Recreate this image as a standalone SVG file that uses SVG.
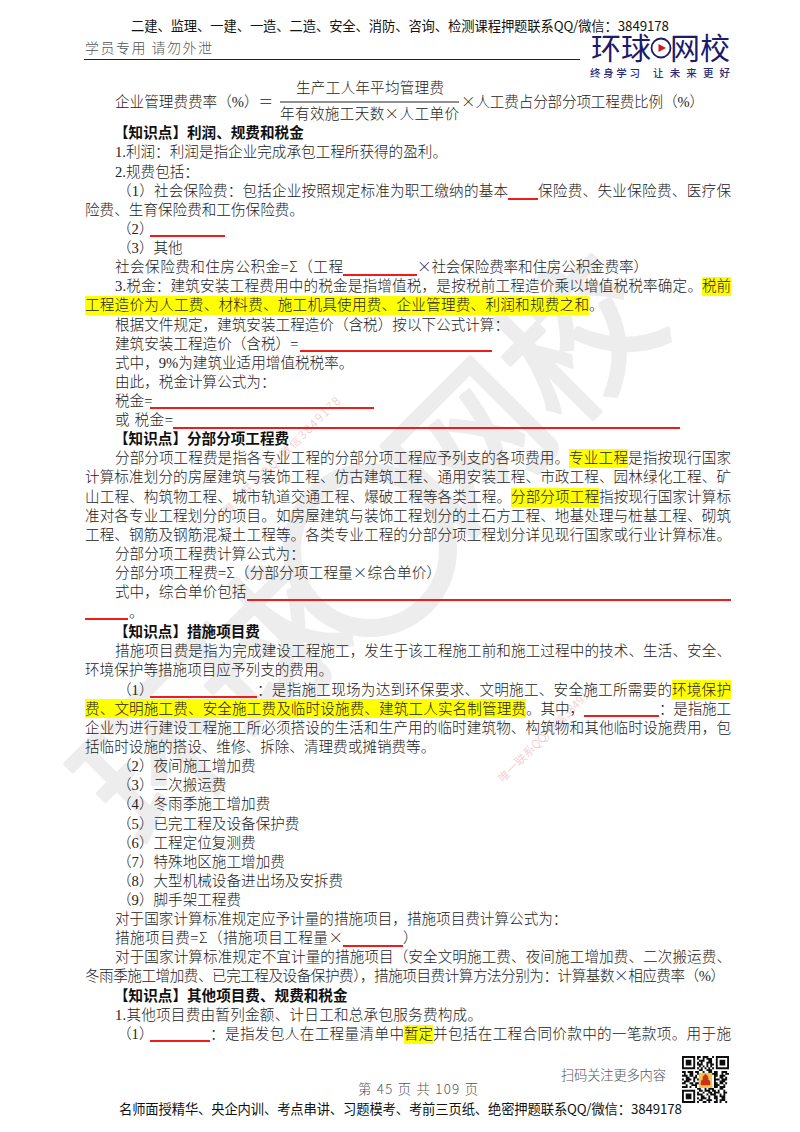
<svg xmlns="http://www.w3.org/2000/svg" width="800" height="1132" viewBox="0 0 800 1132">
<style>
text{font-family:"Liberation Serif","Noto Sans CJK SC",serif;font-size:14.6px;fill:#222;font-weight:300}
.b{font-weight:700;fill:#111}
.c{font-family:"Noto Sans CJK SC",sans-serif}
.h{font-family:"Noto Sans CJK SC",sans-serif;font-size:13.3px;fill:#111;font-weight:400}
.g{fill:#555}
.wm{font-family:"Noto Sans CJK SC",sans-serif;font-size:152px;fill:#ededed;stroke:#ededed;stroke-width:4;stroke-linejoin:round;font-weight:400;text-anchor:middle}
.sm{font-family:"Noto Sans CJK SC",sans-serif;font-size:11.5px;fill:#f0c2c2;font-weight:300}
.logo{font-family:"Noto Sans CJK SC",sans-serif;font-size:30px;fill:#1b1b6b;font-weight:400}
.sub{font-family:"Noto Sans CJK SC",sans-serif;font-size:10.5px;fill:#2b2b7a;font-weight:500}
.hl{fill:#ffff00}
.u{stroke:#f01c1c;stroke-width:1.8;fill:none}
</style>
<defs><filter id="soft"><feGaussianBlur stdDeviation="0.35"/></filter></defs>
<rect width="800" height="1132" fill="#ffffff"/>
<g id="watermark">
<text class="wm" transform="translate(160,760) rotate(-45)" y="53">环</text>
<text class="wm" transform="translate(268,652) rotate(-45)" y="53">球</text>
<circle cx="370" cy="550" r="78" fill="none" stroke="#ededed" stroke-width="18"/>
<text class="wm" transform="translate(472,448) rotate(-45)" y="53">网</text>
<text class="wm" transform="translate(580,340) rotate(-45)" y="53">校</text>
<text class="sm" transform="translate(228,515) rotate(-45)" textLength="160">唯一联系QQ/微信3849178</text>
<text class="sm" transform="translate(503,783) rotate(-45)" textLength="135">唯一联系QQ/微信3849178</text>
</g>
<g id="highlights">
<rect class="hl" x="702" y="277" width="29" height="19"/>
<rect class="hl" x="85" y="296" width="504" height="19"/>
<rect class="hl" x="569" y="449" width="59" height="19"/>
<rect class="hl" x="511" y="488" width="88" height="19"/>
<rect class="hl" x="672" y="680" width="59" height="19"/>
<rect class="hl" x="85" y="699" width="441" height="19"/>
<rect class="hl" x="404" y="1025" width="29" height="19"/>
</g>
<g id="underlines">
<path class="u" d="M508 199H538M150 236H225M343 275H417M300 351H492M150 408H374M173 428H680M247 600H731M85 619H128M150 697H257M584 716H659M343 946H403M150 1041H210"/>
</g>
<g id="header">
<text class="h" x="131" y="31" textLength="538">二建、监理、一建、一造、二造、安全、消防、咨询、检测课程押题联系QQ/微信：3849178</text>
<text class="h g" x="85" y="53" textLength="127" style="font-size:14px;font-weight:300">学员专用 请勿外泄</text>
<line x1="84" y1="59.5" x2="580" y2="59.5" stroke="#222" stroke-width="1"/>
</g>
<g id="logo">
<text class="logo" x="591" y="59" textLength="60">环球</text>
<circle cx="661" cy="48" r="9.5" fill="none" stroke="#1b1b6b" stroke-width="1.8"/>
<path d="M658.5 44L666 48L658.5 52Z" fill="#d8141c"/>
<text class="logo" x="670" y="59" textLength="60">网校</text>
<text class="sub" x="590" y="77" textLength="50">终身学习</text>
<text class="sub" x="653" y="77" textLength="77">让未来更好</text>
</g>
<g id="formula">
<text x="115" y="107">企业管理费费率（%）＝</text>
<text x="296" y="93" textLength="148">生产工人年平均管理费</text>
<line x1="280" y1="102" x2="459" y2="102" stroke="#222" stroke-width="1"/>
<text x="280" y="119" textLength="179">年有效施工天数<tspan class="c">×</tspan>人工单价</text>
<text x="461" y="107" textLength="243"><tspan class="c">×</tspan>人工费占分部分项工程费比例（%）</text>
</g>
<g id="section1">
<text class="b" x="114" y="138">【知识点】利润、规费和税金</text>
<text x="115" y="157" textLength="332">1.利润：利润是指企业完成承包工程所获得的盈利。</text>
<text x="115" y="177">2.规费包括：</text>
<text x="117" y="196" textLength="391">（1）社会保险费：包括企业按照规定标准为职工缴纳的基本</text>
<text x="538" y="196" textLength="193">保险费、失业保险费、医疗保</text>
<text x="85" y="215">险费、生育保险费和工伤保险费。</text>
<text x="117" y="234">（2）</text>
<text x="117" y="253">（3）其他</text>
<text x="115" y="272" textLength="228">社会保险费和住房公积金=<tspan class="c">Σ</tspan>（工程</text>
<text x="417" y="272" textLength="231"><tspan class="c">×</tspan>社会保险费率和住房公积金费率）</text>
<text x="115" y="291" textLength="587">3.税金：建筑安装工程费用中的税金是指增值税，是按税前工程造价乘以增值税税率确定。</text>
<text x="702" y="291" textLength="29">税前</text>
<text x="85" y="310" textLength="504">工程造价为人工费、材料费、施工机具使用费、企业管理费、利润和规费之和</text>
<text x="589" y="310">。</text>
<text x="115" y="330">根据文件规定，建筑安装工程造价（含税）按以下公式计算：</text>
<text x="115" y="349">建筑安装工程造价（含税）=</text>
<text x="115" y="368">式中，9%为建筑业适用增值税税率。</text>
<text x="115" y="387">由此，税金计算公式为：</text>
<text x="115" y="406">税金=</text>
<text x="115" y="425" textLength="58">或 税金=</text>
</g>
<g id="section2">
<text class="b" x="114" y="444">【知识点】分部分项工程费</text>
<text x="115" y="463" textLength="454">分部分项工程费是指各专业工程的分部分项工程应予列支的各项费用。</text>
<text x="569" y="463" textLength="59">专业工程</text>
<text x="628" y="463" textLength="103">是指按现行国家</text>
<text x="85" y="482" textLength="646">计算标准划分的房屋建筑与装饰工程、仿古建筑工程、通用安装工程、市政工程、园林绿化工程、矿</text>
<text x="85" y="502" textLength="426">山工程、构筑物工程、城市轨道交通工程、爆破工程等各类工程。</text>
<text x="511" y="502" textLength="88">分部分项工程</text>
<text x="599" y="502" textLength="132">指按现行国家计算标</text>
<text x="85" y="521" textLength="646">准对各专业工程划分的项目。如房屋建筑与装饰工程划分的土石方工程、地基处理与桩基工程、砌筑</text>
<text x="85" y="540" textLength="646">工程、钢筋及钢筋混凝土工程等。各类专业工程的分部分项工程划分详见现行国家或行业计算标准。</text>
<text x="115" y="559">分部分项工程费计算公式为：</text>
<text x="115" y="578" textLength="326">分部分项工程费=<tspan class="c">Σ</tspan>（分部分项工程量<tspan class="c">×</tspan>综合单价）</text>
<text x="115" y="597">式中，综合单价包括</text>
<text x="129" y="617">。</text>
</g>
<g id="section3">
<text class="b" x="114" y="637">【知识点】措施项目费</text>
<text x="115" y="656" textLength="616">措施项目费是指为完成建设工程施工，发生于该工程施工前和施工过程中的技术、生活、安全、</text>
<text x="85" y="675">环境保护等措施项目应予列支的费用。</text>
<text x="117" y="695">（1）</text>
<text x="257" y="695" textLength="415">：是指施工现场为达到环保要求、文明施工、安全施工所需要的</text>
<text x="672" y="695" textLength="59">环境保护</text>
<text x="85" y="714" textLength="441">费、文明施工费、安全施工费及临时设施费、建筑工人实名制管理费</text>
<text x="526" y="714" textLength="58">。其中，</text>
<text x="659" y="714" textLength="72">：是指施工</text>
<text x="85" y="733" textLength="646">企业为进行建设工程施工所必须搭设的生活和生产用的临时建筑物、构筑物和其他临时设施费用，包</text>
<text x="85" y="752">括临时设施的搭设、维修、拆除、清理费或摊销费等。</text>
<text x="117" y="771">（2）夜间施工增加费</text>
<text x="117" y="790">（3）二次搬运费</text>
<text x="117" y="809">（4）冬雨季施工增加费</text>
<text x="117" y="829">（5）已完工程及设备保护费</text>
<text x="117" y="848">（6）工程定位复测费</text>
<text x="117" y="867">（7）特殊地区施工增加费</text>
<text x="117" y="886">（8）大型机械设备进出场及安拆费</text>
<text x="117" y="905">（9）脚手架工程费</text>
<text x="115" y="924">对于国家计算标准规定应予计量的措施项目，措施项目费计算公式为：</text>
<text x="115" y="943" textLength="228">措施项目费=<tspan class="c">Σ</tspan>（措施项目工程量<tspan class="c">×</tspan></text>
<text x="403" y="943">）</text>
<text x="115" y="962" textLength="616">对于国家计算标准规定不宜计量的措施项目（安全文明施工费、夜间施工增加费、二次搬运费、</text>
<text x="85" y="981" textLength="640">冬雨季施工增加费、已完工程及设备保护费），措施项目费计算方法分别为：计算基数<tspan class="c">×</tspan>相应费率（%）</text>
</g>
<g id="section4">
<text class="b" x="114" y="1001">【知识点】其他项目费、规费和税金</text>
<text x="115" y="1020" textLength="367">1.其他项目费由暂列金额、计日工和总承包服务费构成。</text>
<text x="117" y="1039">（1）</text>
<text x="210" y="1039" textLength="194">：是指发包人在工程量清单中</text>
<text x="404" y="1039" textLength="29">暂定</text>
<text x="433" y="1039" textLength="298">并包括在工程合同价款中的一笔款项。用于施</text>
</g>
<g id="footer">
<text class="h g" x="561" y="1080" textLength="105" style="font-weight:300">扫码关注更多内容</text>
<text class="h g" x="358" y="1094" textLength="120" style="font-weight:300">第 45 页 共 109 页</text>
<text class="h" x="119" y="1114" textLength="563">名师面授精华、央企内训、考点串讲、习题模考、考前三页纸、绝密押题联系QQ/微信：3849178</text>
</g>
<g id="qr" transform="translate(682,1056) scale(1.88)" filter="url(#soft)">
<path fill="none" stroke="#111" stroke-width="1" d="M.5 .5h6v6h-6zM18.5 .5h6v6h-6zM.5 18.5h6v6h-6z"/>
<path fill="#111" d="M2 2h3v3h-3zM20 2h3v3h-3zM2 20h3v3h-3z"/>
<path fill="none" stroke="#111" stroke-width="1" d="M8 .5h2m1 0h3m2 0h1M8 1.5h1m2 0h1m1 0h3M9 2.5h3m2 0h2M8 3.5h1m1 0h1m2 0h3M8 4.5h3m2 0h1m1 0h2M9 5.5h1m1 0h1m1 0h1m1 0h1M8 6.5h1m1 0h1m1 0h1m1 0h1m1 0h1M9 7.5h2m2 0h3M0 8.5h2m1 0h3m1 0h2m2 0h1m2 0h2m1 0h2m2 0h3M1 9.5h1m2 0h2m2 0h1m7 0h3m2 0h1m1 0h2M0 10.5h3m1 0h2m1 0h1m9 0h2m1 0h3M2 11.5h2m2 0h2m9 0h1m2 0h2m1 0h1M0 12.5h1m1 0h3m1 0h1m1 0h1m8 0h3m1 0h3M1 13.5h3m2 0h1m2 0h1m7 0h1m2 0h3M0 14.5h2m2 0h2m1 0h2m8 0h2m1 0h2m1 0h1M2 15.5h1m2 0h3m2 0h2m2 0h2m1 0h3m2 0h1M0 16.5h3m1 0h1m2 0h1m2 0h3m2 0h1m1 0h2m1 0h3M8 17.5h2m2 0h1m1 0h3m3 0h2M9 18.5h2m1 0h3m1 0h2m1 0h1m2 0h1M8 19.5h1m2 0h1m2 0h2m1 0h3m2 0h2M8 20.5h3m2 0h1m1 0h3m2 0h1m1 0h1M10 21.5h2m2 0h1m2 0h2m1 0h3M8 22.5h1m1 0h3m1 0h1m2 0h2m2 0h2M9 23.5h2m2 0h3m2 0h1m1 0h3M8 24.5h1m2 0h2m1 0h1m2 0h2m1 0h1m2 0h1"/>
<rect x="9" y="9" width="7" height="8" fill="#f6c44c"/>
<path d="M10 15.5h5v-2.2l-1-.8v-1.5l-1.5-1.5l-1.5 1.5v1.5l-1 .8z" fill="#c8321e"/>
</g>
</svg>
